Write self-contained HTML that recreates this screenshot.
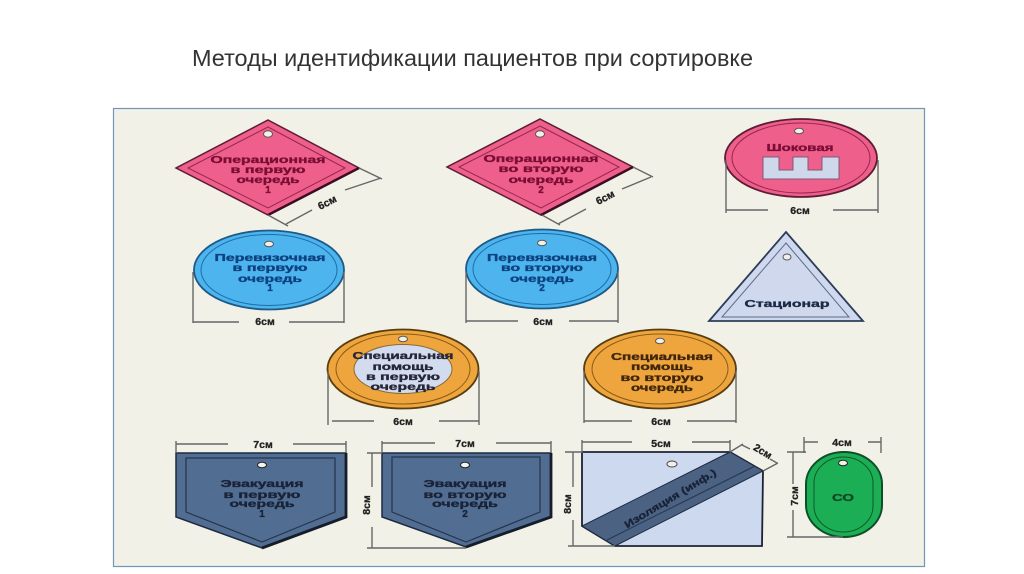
<!DOCTYPE html>
<html lang="ru">
<head>
<meta charset="utf-8">
<style>
html,body{margin:0;padding:0;background:#fff;width:1024px;height:574px;overflow:hidden}
svg{display:block}
text{font-family:"Liberation Sans",sans-serif;text-anchor:middle}
.t{font-weight:bold;font-size:10px;stroke-width:0.35}
.dim{font-weight:bold;font-size:10.5px;fill:#222;stroke:#222;stroke-width:0.3}
.d{stroke:#666;stroke-width:1.4;fill:none}
.hole{fill:#f1f1e7;stroke:#555;stroke-width:1}
</style>
</head>
<body>
<svg width="1024" height="574" viewBox="0 0 1024 574" xmlns="http://www.w3.org/2000/svg">
<defs><filter id="b" x="-2%" y="-2%" width="104%" height="104%"><feGaussianBlur stdDeviation="0.35"/></filter></defs>
<text x="472.500" y="66" font-size="23" fill="#333" textLength="561" lengthAdjust="spacingAndGlyphs">Методы идентификации пациентов при сортировке</text>
<rect x="113.500" y="108.500" width="811" height="458" fill="#f1f1e7" stroke="#7096b8" stroke-width="1.2"/>
<g filter="url(#b)">

<!-- Diamond 1 -->
<polygon points="268,120 359,168 268,215 176,168" fill="#ee5f8b" stroke="#5e1a35" stroke-width="1.5"/>
<polygon points="268,127 345,168 268,208 188,168" fill="none" stroke="#96284f" stroke-width="1"/>
<line x1="359" y1="168" x2="268" y2="215" stroke="#3a1020" stroke-width="2.4"/>
<ellipse cx="268" cy="134" rx="4.500" ry="3.200" class="hole"/>
<g class="t" fill="#7a0f34" stroke="#7a0f34">
<text x="268" y="163" textLength="115" lengthAdjust="spacingAndGlyphs">Операционная</text>
<text x="268" y="173" textLength="75" lengthAdjust="spacingAndGlyphs">в первую</text>
<text x="268" y="183" textLength="63" lengthAdjust="spacingAndGlyphs">очередь</text>
<text x="268" y="193">1</text>
</g>
<path class="d" d="M359 168L382 179M268 215L288 226M286 224L312 210M345 190L381 178"/>
<text class="dim" x="327" y="206" transform="rotate(-27 327 202)">6см</text>

<!-- Diamond 2 -->
<polygon points="540,119 633,167 541,215 447,167" fill="#ee5f8b" stroke="#5e1a35" stroke-width="1.5"/>
<polygon points="540,126 619,167 541,208 459,167" fill="none" stroke="#96284f" stroke-width="1"/>
<line x1="633" y1="167" x2="541" y2="215" stroke="#3a1020" stroke-width="2.4"/>
<ellipse cx="540" cy="134" rx="4.500" ry="3.200" class="hole"/>
<g class="t" fill="#7a0f34" stroke="#7a0f34">
<text x="541" y="162" textLength="115" lengthAdjust="spacingAndGlyphs">Операционная</text>
<text x="541" y="172" textLength="85" lengthAdjust="spacingAndGlyphs">во вторую</text>
<text x="541" y="183" textLength="65" lengthAdjust="spacingAndGlyphs">очередь</text>
<text x="541" y="193">2</text>
</g>
<path class="d" d="M633 167L653 177M542 215L560 225M558 224L586 209M622 189L651 177"/>
<text class="dim" x="605" y="201" transform="rotate(-27 605 197)">6см</text>

<!-- Shock -->
<ellipse cx="801" cy="158" rx="76" ry="39" fill="#ee5f8b" stroke="#5e1a35" stroke-width="1.8"/>
<ellipse cx="801" cy="158" rx="69" ry="35" fill="none" stroke="#96284f" stroke-width="1"/>
<ellipse cx="799" cy="131" rx="4.500" ry="2.800" class="hole"/>
<text class="t" x="800" y="151" fill="#7a0f34" stroke="#7a0f34" textLength="67" lengthAdjust="spacingAndGlyphs">Шоковая</text>
<polygon points="763,157 779,157 779,170 793,170 793,157 808,157 808,170 822,170 822,157 839,157 839,179 763,179" fill="#cfd8ea" stroke="#7e5a78" stroke-width="1"/>
<path class="d" d="M726 160V213M878 160V213M726 210H768M833 210H878"/>
<text class="dim" x="800" y="214">6см</text>

<!-- Blue 1 -->
<ellipse cx="269" cy="270" rx="75" ry="39.500" fill="#4db4ee" stroke="#1c5a88" stroke-width="1.8"/>
<ellipse cx="269" cy="270" rx="68" ry="35.500" fill="none" stroke="#1c6ea8" stroke-width="1"/>
<ellipse cx="269" cy="244" rx="4.500" ry="2.800" class="hole"/>
<g class="t" fill="#0c4280" stroke="#0c4280">
<text x="270" y="261" textLength="111" lengthAdjust="spacingAndGlyphs">Перевязочная</text>
<text x="270" y="271" textLength="75" lengthAdjust="spacingAndGlyphs">в первую</text>
<text x="270" y="282" textLength="64" lengthAdjust="spacingAndGlyphs">очередь</text>
<text x="270" y="291">1</text>
</g>
<path class="d" d="M193 272V323M344 272V323M193 322H239M289 322H344"/>
<text class="dim" x="265" y="325">6см</text>

<!-- Blue 2 -->
<ellipse cx="542" cy="269" rx="76" ry="39.500" fill="#4db4ee" stroke="#1c5a88" stroke-width="1.8"/>
<ellipse cx="542" cy="269" rx="69" ry="35.500" fill="none" stroke="#1c6ea8" stroke-width="1"/>
<ellipse cx="542" cy="243" rx="4.500" ry="2.800" class="hole"/>
<g class="t" fill="#0c4280" stroke="#0c4280">
<text x="542" y="261" textLength="110" lengthAdjust="spacingAndGlyphs">Перевязочная</text>
<text x="542" y="271" textLength="82" lengthAdjust="spacingAndGlyphs">во вторую</text>
<text x="542" y="282" textLength="64" lengthAdjust="spacingAndGlyphs">очередь</text>
<text x="542" y="291">2</text>
</g>
<path class="d" d="M466 272V323M618 272V323M466 321H518M569 321H618"/>
<text class="dim" x="543" y="325">6см</text>

<!-- Triangle -->
<polygon points="786,232 863,321 709,321" fill="#cfd8ec" stroke="#2c3c5c" stroke-width="1.8"/>
<polygon points="786,243 849,317 722,317" fill="none" stroke="#5a6c8c" stroke-width="1"/>
<ellipse cx="787" cy="257" rx="4" ry="3" fill="#eef0f0" stroke="#555" stroke-width="1"/>
<text class="t" x="787" y="307" fill="#1e2c48" stroke="#1e2c48" textLength="85" lengthAdjust="spacingAndGlyphs">Стационар</text>

<!-- Orange 1 -->
<ellipse cx="403" cy="369" rx="75.500" ry="39.500" fill="#eea53c" stroke="#5a3c10" stroke-width="1.8"/>
<ellipse cx="403" cy="369" rx="67" ry="35" fill="none" stroke="#8a5c18" stroke-width="1"/>
<ellipse cx="403" cy="369" rx="49" ry="24.500" fill="#d3dcee" stroke="#8a6a30" stroke-width="1"/>
<ellipse cx="403" cy="339" rx="4.500" ry="2.800" class="hole"/>
<g class="t" fill="#262838" stroke="#262838">
<text x="403" y="359" textLength="101" lengthAdjust="spacingAndGlyphs">Специальная</text>
<text x="403" y="370" textLength="61" lengthAdjust="spacingAndGlyphs">помощь</text>
<text x="403" y="380" textLength="74" lengthAdjust="spacingAndGlyphs">в первую</text>
<text x="403" y="390" textLength="65" lengthAdjust="spacingAndGlyphs">очередь</text>
</g>
<path class="d" d="M328 371V425M479 371V425M332 421H374M439 421H479"/>
<text class="dim" x="403" y="425">6см</text>

<!-- Orange 2 -->
<ellipse cx="660" cy="369" rx="76" ry="39.500" fill="#eea53c" stroke="#5a3c10" stroke-width="1.8"/>
<ellipse cx="660" cy="369" rx="68" ry="35" fill="none" stroke="#8a5c18" stroke-width="1"/>
<ellipse cx="660" cy="341" rx="4.500" ry="2.800" class="hole"/>
<g class="t" fill="#402808" stroke="#402808">
<text x="662" y="360" textLength="102" lengthAdjust="spacingAndGlyphs">Специальная</text>
<text x="662" y="370" textLength="62" lengthAdjust="spacingAndGlyphs">помощь</text>
<text x="662" y="381" textLength="83" lengthAdjust="spacingAndGlyphs">во вторую</text>
<text x="662" y="391" textLength="62" lengthAdjust="spacingAndGlyphs">очередь</text>
</g>
<path class="d" d="M584 371V423M736 371V423M584 421H632M687 421H736"/>
<text class="dim" x="661" y="425">6см</text>

<!-- Pocket 1 -->
<polygon points="176,453 346,453 346,517 262,548 176,517" fill="#516d91" stroke="#1c2a40" stroke-width="1.5"/>
<path d="M346 453V517L262 548" fill="none" stroke="#141c2c" stroke-width="2.800"/>
<polygon points="186,458 335,458 335,512 262,542 186,512" fill="none" stroke="#25344e" stroke-width="1.2"/>
<ellipse cx="262" cy="465" rx="4.500" ry="2.800" fill="#f4f4ec" stroke="#222" stroke-width="1"/>
<g class="t" fill="#1a2438" stroke="#1a2438">
<text x="262" y="487" textLength="83" lengthAdjust="spacingAndGlyphs">Эвакуация</text>
<text x="262" y="498" textLength="77" lengthAdjust="spacingAndGlyphs">в первую</text>
<text x="262" y="507" textLength="65" lengthAdjust="spacingAndGlyphs">очередь</text>
<text x="262" y="517">1</text>
</g>
<path class="d" d="M176 441V453M346 441V453M176 444H228M293 444H346"/>
<text class="dim" x="263" y="448">7см</text>

<!-- Pocket 2 -->
<polygon points="382,453 551,453 551,517 466,547 382,517" fill="#516d91" stroke="#1c2a40" stroke-width="1.5"/>
<path d="M551 453V517L466 547" fill="none" stroke="#141c2c" stroke-width="2.800"/>
<polygon points="392,457 540,457 540,512 466,542 392,512" fill="none" stroke="#25344e" stroke-width="1.2"/>
<ellipse cx="465" cy="465" rx="4.500" ry="2.800" fill="#f4f4ec" stroke="#222" stroke-width="1"/>
<g class="t" fill="#1a2438" stroke="#1a2438">
<text x="465" y="487" textLength="83" lengthAdjust="spacingAndGlyphs">Эвакуация</text>
<text x="465" y="498" textLength="83" lengthAdjust="spacingAndGlyphs">во вторую</text>
<text x="465" y="507" textLength="66" lengthAdjust="spacingAndGlyphs">очередь</text>
<text x="465" y="517">2</text>
</g>
<path class="d" d="M382 441V453M551 441V453M382 443H435M496 443H551M367 453H382M372 453V487M372 527V548M367 548H466"/>
<text class="dim" x="465" y="447">7см</text>
<text class="dim" x="366" y="509" transform="rotate(-90 366 505)">8см</text>

<!-- Isolation -->
<polygon points="582,452 730,452 763,471 762,546 615,546 582,526" fill="#cdd9ef" stroke="#1c2434" stroke-width="1.800"/>
<polygon points="730,452 763,471 615,546 582,526" fill="#4c6283" stroke="#1c2a40" stroke-width="1"/>
<line x1="607" y1="540" x2="755" y2="466" stroke="#25344e" stroke-width="1"/>
<ellipse cx="672" cy="464" rx="5" ry="3" fill="#f1f1e7" stroke="#444" stroke-width="1"/>
<text class="t" x="670" y="502" fill="#1a2438" stroke="#1a2438" textLength="105" lengthAdjust="spacingAndGlyphs" transform="rotate(-31 670 498)">Изоляция (инф.)</text>
<path class="d" d="M582 440V453M730 440V452M582 442H632M692 442H730M565 452H582M573 452V487M573 520V546M568 546H615M730 452L743 444M763 471L778 463M742 445L750 449M770 459L777 463"/>
<text class="dim" x="661" y="447">5см</text>
<text class="dim" x="763" y="455" transform="rotate(31 763 451)">2см</text>
<text class="dim" x="567" y="508" transform="rotate(-90 567 504)">8см</text>

<!-- Green -->
<rect x="806" y="452" width="76" height="85" rx="38" ry="32" fill="#1fae55" stroke="#0e4f26" stroke-width="2"/>
<rect x="814" y="457" width="59" height="75" rx="29.500" ry="26" fill="none" stroke="#0e5a2a" stroke-width="1"/>
<ellipse cx="843" cy="463" rx="4.500" ry="2.800" fill="#eef4e8" stroke="#222" stroke-width="1"/>
<text class="t" x="843" y="501" fill="#0e4a24" stroke="#0e4a24" textLength="22" lengthAdjust="spacingAndGlyphs">СО</text>
<path class="d" d="M804 437V453M881 437V453M804 442H818M868 442H881M787 452H806M793 452V484M793 510V537M787 537H843"/>
<text class="dim" x="842" y="446">4см</text>
<text class="dim" x="794" y="500" transform="rotate(-90 794 496)">7см</text>
</g>
</svg>
</body>
</html>
